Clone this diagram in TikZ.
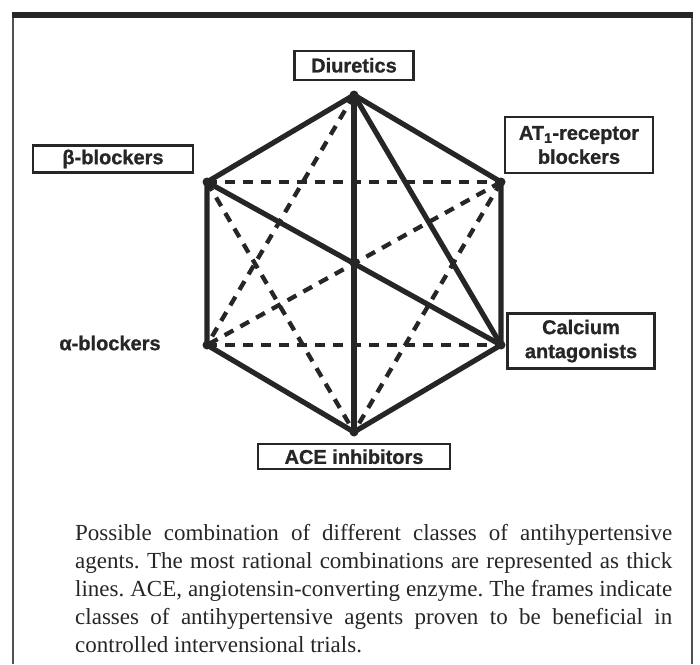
\documentclass[tikz,border=0pt]{standalone}
\usepackage{fontspec}
\setmainfont{Liberation Serif}
\setsansfont{Liberation Sans}
\newfontfamily\drugfont{Liberation Sans}[BoldFeatures={FakeBold=1}]
\usepackage{xcolor}
\usepackage{tikz}
\usetikzlibrary{positioning}

\definecolor{ink}{HTML}{262626}
\tikzset{
  combo/.style={draw=ink, line width=5.2pt, line cap=round},
  weakcombo/.style={draw=ink, line width=4.3pt, dash pattern=on 10pt off 8pt},
  drug/.style={text=ink, inner sep=0pt, align=center,
    font=\drugfont\bfseries\fontsize{20}{24}\selectfont},
  framed/.style={drug, draw=ink, line width=2.4pt},
}

\begin{document}
\begin{tikzpicture}[x=1pt, y=-1pt]
    \useasboundingbox (0,0) rectangle (700,664);
    % panel frame
    \draw[ink!80, line width=1.2pt] (13,15) -- (13,664) (692,15) -- (692,664);
    \fill[ink] (12,12) rectangle (693,18);

    % hexagon corners
    \coordinate (diu) at (354,95);
    \coordinate (atr) at (501,182);
    \coordinate (cal) at (501,345);
    \coordinate (ace) at (354,432);
    \coordinate (alb) at (207,345);
    \coordinate (beb) at (207,182);

    % less rational combinations
    \foreach \a/\b in {beb/atr, alb/cal, diu/alb, beb/ace, atr/alb, atr/ace}
      \draw[weakcombo] (\a) -- (\b);
    % most rational combinations
    \draw[combo, line join=round] (diu) -- (atr) -- (cal) -- (ace) -- (alb) -- (beb) -- cycle;
    \draw[combo] (diu) -- (ace);
    \draw[combo] (diu) -- (cal);
    \draw[combo] (beb) -- (cal);
    \foreach \v in {diu, atr, cal, ace, alb, beb}
      \fill[ink] (\v) circle (4.5pt);

    % drug classes
    \node[framed, minimum width=119pt, minimum height=29pt, above=14pt of diu] (diulab) {Diuretics};
    \node[framed, minimum width=148pt, minimum height=56pt] (atrlab) at (579,145) {AT\textsubscript{1}-receptor\\blockers};
    \node[framed, minimum width=160pt, minimum height=27pt] (beblab) at (113,159) {β-blockers};
    \node[drug] (alblab) at (110,343) {α-blockers};
    \node[framed, minimum width=147pt, minimum height=55pt] (callab) at (581,341) {Calcium\\antagonists};
    \node[framed, minimum width=192pt, minimum height=25pt, below=11pt of ace] (acelab) {ACE inhibitors};

    % legend
    \node[anchor=base west, text width=597pt, align=justify, inner sep=0pt, text=ink] (caption) at (75,540)
      {\fontsize{23}{28}\selectfont\frenchspacing\hyphenpenalty=10000
       Possible combination of different classes of antihypertensive\linebreak
       agents. The most rational combinations are represented as thick\linebreak
       lines. ACE, angiotensin-converting enzyme. The frames indicate\linebreak
       classes of antihypertensive agents proven to be beneficial in\linebreak
       controlled intervensional trials.\par};
\end{tikzpicture}
\end{document}
